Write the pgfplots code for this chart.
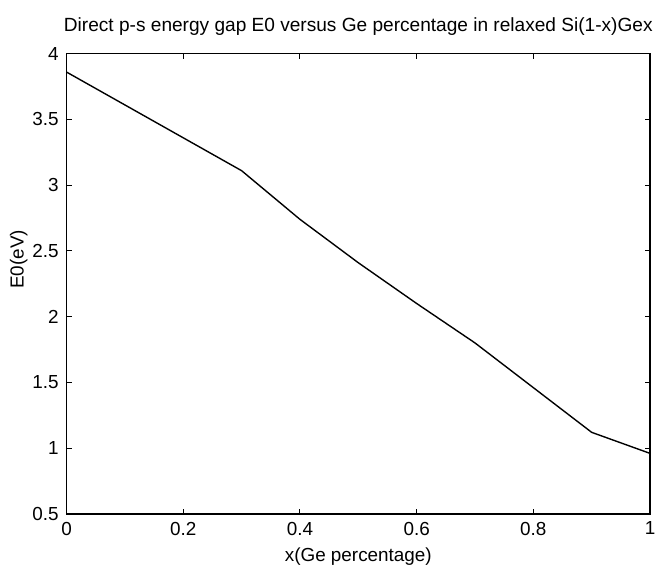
\documentclass[border=0pt]{standalone}
\usepackage{fontspec}
\setmainfont{Liberation Sans}
\usepackage{pgfplots}
\pgfplotsset{compat=1.18}
\begin{document}
\begin{tikzpicture}
\begin{axis}[
  at={(0,0)}, anchor=south west,
  scale only axis,
  width=293.5pt, height=231.5pt,
  xmin=0, xmax=1, ymin=0.5, ymax=4,
  xtick={0,0.2,0.4,0.6,0.8,1},
  ytick={0.5,1,1.5,2,2.5,3,3.5,4},
  tick align=inside,
  major tick length=2.5pt,
  axis line style={line width=0.8pt},
  every tick/.style={black, line width=0.5pt},
  /pgf/number format/assume math mode=true,
  tick label style={font=\fontsize{9.5}{11}\selectfont},
  xticklabel style={yshift=-0.5pt},
  yticklabel style={xshift=-0.5pt},
  title={Direct p-s energy gap E0 versus Ge percentage in relaxed Si(1-x)Gex},
  title style={at={(axis description cs:0.5,1.034)}, anchor=center, font=\fontsize{9.6}{11}\selectfont},
  xlabel={x(Ge percentage)},
  xlabel style={at={(axis description cs:0.5,-0.093)}, anchor=center, font=\fontsize{9.5}{11}\selectfont},
  ylabel={E0(eV)},
  ylabel style={at={(axis description cs:-0.082,0.553)}, anchor=center, font=\fontsize{9.5}{11}\selectfont},
]
\addplot[black, line width=0.7pt] coordinates {
(0,3.86) (0.1,3.61) (0.2,3.36) (0.3,3.11) (0.4,2.74) (0.5,2.41)
(0.6,2.10) (0.7,1.80) (0.8,1.46) (0.9,1.12) (1.0,0.96)
};
\end{axis}
\pgfresetboundingbox
\path[use as bounding box] (-33.5pt,-28.7pt) rectangle (296.5pt,258.5pt);
\end{tikzpicture}
\end{document}
